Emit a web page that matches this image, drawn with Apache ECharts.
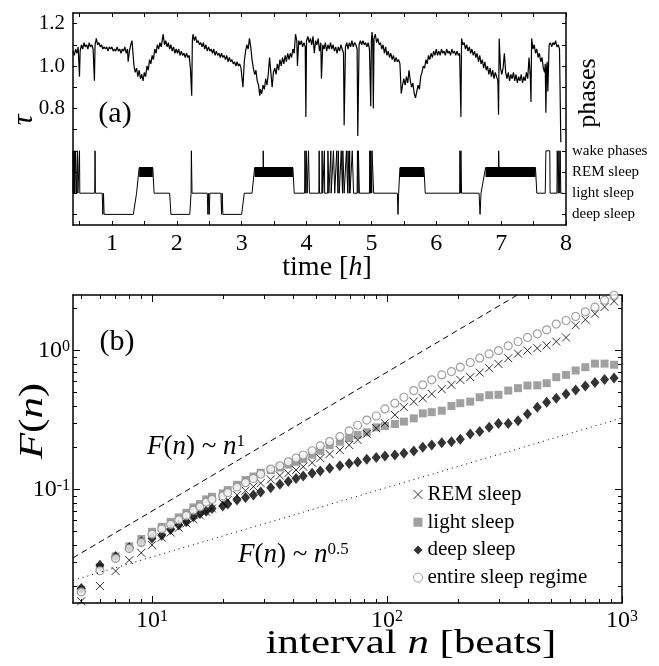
<!DOCTYPE html>
<html>
<head>
<meta charset="utf-8">
<script src="https://cdn.jsdelivr.net/npm/echarts@6/dist/echarts.min.js"></script>
<style>
  html, body { margin: 0; background: #fff; }
  #chart { width: 659px; height: 666px; }
</style>
</head>
<body>
<div id="chart"></div>
<script>
const SERIF = '"Liberation Serif", "Times New Roman", "DejaVu Serif", serif';

// ---- panel (a): tau time series and hypnogram ----
const tauPoints = [
  [0.40,1.07],[0.42,1.05],[0.44,1.08],[0.46,1.06],[0.48,1.09],[0.50,0.95],[0.51,1.07],[0.53,1.10],[0.55,1.08],[0.57,1.11],
  [0.59,1.09],[0.61,1.10],[0.63,1.08],[0.65,1.11],[0.67,1.09],[0.69,1.10],[0.71,1.08],[0.73,0.93],[0.74,1.10],[0.76,1.13],
  [0.78,1.10],[0.80,1.11],[0.82,1.09],[0.84,1.10],[0.86,1.08],[0.88,1.09],[0.90,1.08],[0.92,1.09],[0.94,1.07],[0.96,1.09],
  [0.98,1.08],[1.00,1.09],[1.02,1.07],[1.04,1.08],[1.06,1.07],[1.08,1.09],[1.10,1.07],[1.12,1.08],[1.14,1.06],[1.16,1.08],
  [1.18,1.07],[1.20,1.09],[1.22,1.06],[1.24,1.08],[1.25,1.02],[1.27,1.07],[1.29,1.10],[1.31,1.12],[1.33,1.04],[1.34,1.00],
  [1.36,0.97],[1.38,0.99],[1.40,0.95],[1.42,0.98],[1.44,0.94],[1.46,0.96],[1.48,0.93],[1.50,0.97],[1.52,0.95],[1.54,1.00],
  [1.56,0.98],[1.58,1.03],[1.60,1.01],[1.62,1.05],[1.64,1.03],[1.66,1.08],[1.68,1.06],[1.70,1.10],[1.72,1.08],[1.74,1.11],
  [1.76,1.09],[1.78,1.13],[1.79,1.15],[1.81,1.10],[1.83,1.12],[1.85,1.09],[1.87,1.11],[1.89,1.08],[1.91,1.10],[1.93,1.07],
  [1.95,1.09],[1.97,1.06],[1.99,1.08],[2.01,1.06],[2.03,1.08],[2.05,1.05],[2.07,1.07],[2.09,1.05],[2.11,1.06],[2.13,1.04],
  [2.15,1.06],[2.17,1.04],[2.19,1.05],[2.21,0.99],[2.23,0.86],[2.24,1.12],[2.25,1.15],[2.27,1.12],[2.29,1.14],[2.31,1.11],
  [2.33,1.12],[2.35,1.10],[2.37,1.11],[2.39,1.09],[2.41,1.11],[2.43,1.08],[2.45,1.10],[2.47,1.07],[2.49,1.09],[2.51,1.07],
  [2.53,1.08],[2.55,1.06],[2.57,1.08],[2.59,1.05],[2.61,1.07],[2.63,1.05],[2.65,1.06],[2.67,1.04],[2.69,1.06],[2.71,1.04],
  [2.73,1.05],[2.75,1.03],[2.77,1.05],[2.79,1.02],[2.81,1.04],[2.83,1.02],[2.85,1.03],[2.87,1.01],[2.89,1.02],[2.91,1.00],
  [2.93,1.02],[2.95,1.00],[2.97,1.01],[2.99,0.99],[3.02,0.90],[3.04,1.02],[3.06,1.07],[3.08,1.10],[3.10,1.08],[3.12,1.13],
  [3.14,1.09],[3.16,1.03],[3.18,0.99],[3.20,0.96],[3.22,0.98],[3.24,0.93],[3.26,0.91],[3.28,0.86],[3.29,0.89],[3.31,0.87],
  [3.33,0.91],[3.35,0.89],[3.37,0.94],[3.39,0.91],[3.41,0.96],[3.43,1.04],[3.45,0.97],[3.47,0.90],[3.49,0.97],[3.51,0.99],
  [3.53,0.96],[3.55,1.01],[3.57,0.98],[3.59,1.03],[3.61,1.00],[3.63,1.04],[3.65,1.01],[3.67,1.05],[3.69,1.02],[3.71,1.06],
  [3.73,1.03],[3.75,1.06],[3.77,1.04],[3.79,1.08],[3.81,1.06],[3.83,1.15],[3.85,1.12],[3.86,1.00],[3.88,1.12],[3.90,1.10],
  [3.92,1.12],[3.94,1.09],[3.96,1.11],[3.98,1.09],[3.99,0.76],[4.00,1.12],[4.02,1.14],[4.04,1.11],[4.06,1.13],[4.08,1.10],
  [4.10,1.14],[4.12,1.06],[4.14,1.12],[4.16,1.10],[4.18,1.13],[4.20,1.07],[4.22,1.11],[4.23,0.94],[4.25,1.10],[4.27,1.08],
  [4.29,1.11],[4.31,1.07],[4.33,1.10],[4.35,1.08],[4.37,1.11],[4.39,1.08],[4.41,1.10],[4.43,1.07],[4.45,1.09],[4.47,1.06],
  [4.49,1.09],[4.51,1.07],[4.53,1.10],[4.55,1.08],[4.57,1.06],[4.58,0.72],[4.60,1.09],[4.62,1.11],[4.64,1.08],[4.66,1.11],
  [4.68,1.09],[4.70,1.12],[4.72,1.09],[4.74,1.11],[4.76,1.10],[4.78,1.08],[4.79,0.67],[4.81,1.10],[4.83,1.12],[4.85,1.10],
  [4.87,1.12],[4.89,1.10],[4.91,1.11],[4.93,1.09],[4.95,1.11],[4.97,1.08],[4.99,0.81],[5.00,1.12],[5.01,1.16],[5.02,1.12],
  [5.03,0.80],[5.04,1.13],[5.06,1.15],[5.08,1.11],[5.10,1.13],[5.12,1.10],[5.14,1.11],[5.16,1.08],[5.18,1.10],[5.20,1.06],
  [5.22,1.09],[5.24,1.05],[5.26,1.07],[5.28,1.04],[5.30,1.06],[5.32,1.03],[5.34,1.05],[5.36,1.02],[5.38,1.04],[5.40,1.02],
  [5.42,1.03],[5.44,1.01],[5.46,0.87],[5.48,0.91],[5.50,0.94],[5.52,0.91],[5.54,0.95],[5.56,0.92],[5.58,0.98],[5.60,0.93],
  [5.62,0.90],[5.64,0.92],[5.66,0.87],[5.68,0.85],[5.70,0.88],[5.72,0.91],[5.74,0.89],[5.76,0.95],[5.78,0.97],[5.80,1.00],
  [5.82,0.99],[5.84,1.03],[5.86,1.01],[5.88,1.05],[5.90,1.03],[5.92,1.06],[5.94,1.04],[5.96,1.07],[5.98,1.05],[6.00,1.08],
  [6.02,1.05],[6.04,1.07],[6.06,1.05],[6.08,1.08],[6.10,1.06],[6.12,1.07],[6.14,1.05],[6.16,1.08],[6.18,1.06],[6.20,1.07],
  [6.22,1.05],[6.24,1.08],[6.26,1.06],[6.28,1.07],[6.30,1.05],[6.32,1.07],[6.34,1.05],[6.36,1.06],[6.38,0.76],[6.39,1.13],
  [6.41,1.10],[6.43,1.11],[6.45,1.08],[6.47,1.10],[6.49,1.07],[6.51,1.09],[6.53,1.06],[6.55,1.08],[6.57,1.05],[6.59,1.07],
  [6.61,1.04],[6.63,1.06],[6.65,1.02],[6.67,1.05],[6.69,1.01],[6.71,1.03],[6.73,0.99],[6.75,1.02],[6.77,0.98],[6.79,1.00],
  [6.81,0.96],[6.83,0.99],[6.85,0.95],[6.87,0.98],[6.89,0.94],[6.91,0.97],[6.93,0.95],[6.95,0.93],[6.96,0.77],[6.97,1.13],
  [6.99,0.99],[7.01,0.96],[7.03,0.99],[7.05,1.06],[7.07,0.97],[7.09,0.94],[7.11,0.97],[7.13,0.93],[7.15,0.96],[7.17,0.94],
  [7.19,0.97],[7.21,0.93],[7.23,0.96],[7.25,0.92],[7.27,0.95],[7.29,0.93],[7.31,0.96],[7.33,0.92],[7.35,0.95],[7.37,0.93],
  [7.39,0.97],[7.41,0.94],[7.43,1.04],[7.45,0.95],[7.46,0.83],[7.47,1.13],[7.49,1.08],[7.51,1.10],[7.53,1.06],[7.55,1.08],
  [7.57,1.04],[7.59,1.06],[7.61,1.02],[7.63,1.04],[7.65,0.99],[7.67,0.97],[7.68,1.01],[7.69,0.78],[7.70,0.99],[7.71,1.02],
  [7.72,0.88],[7.74,1.10],[7.76,1.11],[7.78,1.09],[7.80,1.11],[7.82,1.10],[7.84,1.12],[7.86,1.09],[7.88,1.10],[7.90,1.08],
  [7.92,0.64]
];

// sleep stage drawn on the same axis: wake 0.6, REM 0.52, light 0.4, deep 0.3
const hypnoPoints = [
  [0.40,0.40],[0.402,0.60],[0.41,0.60],[0.412,0.40],[0.42,0.60],[0.428,0.40],[0.44,0.60],[0.45,0.60],[0.452,0.40],
  [0.47,0.60],[0.475,0.40],[0.495,0.40],[0.50,0.60],[0.505,0.40],
  [0.735,0.40],[0.74,0.60],[0.745,0.40],
  [0.85,0.40],[0.86,0.30],[0.87,0.40],[0.88,0.30],
  [1.33,0.30],[1.38,0.40],[1.40,0.40],[1.42,0.52],
  [1.63,0.52],[1.65,0.40],
  [1.89,0.40],[1.91,0.30],
  [2.20,0.30],[2.22,0.40],[2.225,0.60],[2.235,0.40],
  [2.47,0.40],[2.48,0.30],[2.49,0.40],[2.50,0.30],[2.51,0.40],
  [2.68,0.40],[2.69,0.30],[2.70,0.40],[2.71,0.30],
  [3.00,0.30],[3.04,0.40],
  [3.16,0.40],[3.20,0.52],
  [3.33,0.52],[3.332,0.60],[3.338,0.52],
  [3.79,0.52],[3.81,0.40],
  [3.97,0.40],[3.975,0.60],[3.985,0.60],[3.99,0.40],[3.995,0.60],[4.005,0.60],[4.01,0.40],[4.025,0.40],[4.03,0.60],[4.04,0.60],[4.045,0.40],
  [4.19,0.40],[4.195,0.60],[4.20,0.40],
  [4.235,0.40],[4.24,0.60],[4.25,0.40],
  [4.27,0.40],[4.275,0.60],[4.28,0.40],
  [4.325,0.40],[4.33,0.60],[4.34,0.60],[4.345,0.40],
  [4.37,0.40],[4.375,0.60],[4.38,0.40],
  [4.41,0.40],[4.415,0.60],[4.43,0.60],[4.435,0.40],
  [4.46,0.40],[4.465,0.60],[4.48,0.60],[4.485,0.40],[4.49,0.60],[4.50,0.60],[4.505,0.40],
  [4.53,0.40],[4.535,0.60],[4.55,0.60],[4.555,0.40],[4.56,0.60],[4.575,0.60],[4.58,0.40],
  [4.61,0.40],[4.615,0.60],[4.63,0.60],[4.635,0.40],[4.64,0.60],[4.655,0.60],[4.66,0.40],[4.665,0.60],[4.67,0.40],
  [4.70,0.40],[4.705,0.60],[4.72,0.60],[4.725,0.40],
  [4.78,0.40],[4.785,0.60],[4.795,0.40],[4.80,0.60],[4.81,0.60],[4.815,0.40],
  [4.97,0.40],[4.975,0.60],[4.985,0.40],[4.99,0.60],[5.00,0.60],[5.005,0.40],[5.01,0.60],[5.03,0.60],[5.035,0.40],
  [5.40,0.40],[5.41,0.30],[5.42,0.40],[5.44,0.52],
  [5.81,0.52],[5.83,0.40],
  [6.36,0.40],[6.365,0.60],[6.375,0.40],[6.38,0.60],[6.39,0.40],
  [6.66,0.40],[6.675,0.30],[6.69,0.40],[6.71,0.40],[6.76,0.52],
  [6.96,0.52],[6.962,0.60],[6.968,0.52],
  [7.53,0.52],[7.55,0.40],
  [7.68,0.40],[7.69,0.60],[7.75,0.60],[7.755,0.40],
  [7.86,0.40],[7.865,0.60],[7.875,0.60],[7.88,0.40],[7.89,0.60],[7.90,0.60],[7.905,0.40],[7.91,0.60],[7.92,0.40],[7.95,0.40]
];
const remSpans = [[1.42, 1.63], [3.20, 3.79], [5.44, 5.81], [6.76, 7.53]];
const remBandLevel = 0.50;

const stageLevels = [0.3, 0.4, 0.5, 0.6];
const stageNames = ['deep sleep', 'light sleep', 'REM sleep', 'wake phases'];
const hourTicks = [0.5, 1, 1.5, 2, 2.5, 3, 3.5, 4, 4.5, 5, 5.5, 6, 6.5, 7, 7.5, 8];
const hourLabels = [1, 2, 3, 4, 5, 6, 7, 8];
const tauTicks = [0.3, 0.4, 0.5, 0.6, 0.7, 0.8, 0.9, 1.0, 1.1, 1.2];
const tauLabels = [0.8, 1.0, 1.2];

// ---- panel (b): fluctuation function F(n) ----
const nValues = [5, 6, 7, 8, 9, 10, 11, 12, 13, 14, 15, 16, 17, 18, 20, 21, 23, 25, 27, 29,
  32, 35, 38, 41, 44, 48, 52, 57, 63, 69, 75, 82, 90, 98, 108, 118, 130, 142, 155, 171,
  188, 205, 226, 248, 272, 298, 328, 361, 396, 436, 478, 525, 578, 635, 698, 767, 843, 925, 1017];
const remF = [0.0157, 0.0202, 0.0259, 0.031, 0.035, 0.0398, 0.045, 0.049, 0.053, 0.057, 0.061, 0.065, 0.069, 0.073, 0.080, 0.084, 0.091, 0.098, 0.105, 0.111,
  0.118, 0.126, 0.131, 0.138, 0.146, 0.156, 0.168, 0.180, 0.192, 0.209, 0.227, 0.251, 0.276, 0.300, 0.344, 0.391, 0.429, 0.454, 0.487, 0.527,
  0.566, 0.615, 0.643, 0.694, 0.746, 0.802, 0.88, 0.95, 1.0, 1.04, 1.09, 1.16, 1.24, 1.52, 1.67, 1.84, 2.06, 2.26];
const lightF = [0.019, 0.0275, 0.033, 0.039, 0.044, 0.0496, 0.0538, 0.0585, 0.063, 0.068, 0.0743, 0.0785, 0.0849, 0.0886, 0.0937, 0.099, 0.108, 0.117, 0.124, 0.132,
  0.138, 0.144, 0.151, 0.158, 0.166, 0.178, 0.190, 0.209, 0.221, 0.234, 0.247, 0.258, 0.280, 0.286, 0.296, 0.308, 0.325, 0.353, 0.360, 0.369,
  0.399, 0.418, 0.429, 0.461, 0.477, 0.480, 0.515, 0.536, 0.560, 0.562, 0.582, 0.643, 0.668, 0.718, 0.759, 0.805, 0.805, 0.79, 1.01];
const deepF = [0.0194, 0.0285, 0.033, 0.038, 0.042, 0.0445, 0.0469, 0.0515, 0.0554, 0.0585, 0.0636, 0.0671, 0.0698, 0.073, 0.0759, 0.0785, 0.0839, 0.0877, 0.0912, 0.096,
  0.103, 0.109, 0.114, 0.120, 0.125, 0.131, 0.136, 0.142, 0.148, 0.154, 0.158, 0.165, 0.170, 0.174, 0.177, 0.182, 0.189, 0.201, 0.209, 0.217,
  0.221, 0.230, 0.251, 0.261, 0.280, 0.299, 0.299, 0.313, 0.350, 0.391, 0.425, 0.454, 0.487, 0.521, 0.556, 0.588, 0.618, 0.635];
const entireF = [0.0183, 0.026, 0.0319, 0.0376, 0.0416, 0.0477, 0.052, 0.056, 0.0605, 0.065, 0.071, 0.075, 0.081, 0.085, 0.090, 0.095, 0.104, 0.112, 0.120, 0.129,
  0.140, 0.148, 0.158, 0.168, 0.177, 0.190, 0.206, 0.221, 0.240, 0.264, 0.290, 0.316, 0.338, 0.380, 0.418, 0.461, 0.515, 0.566, 0.615, 0.668,
  0.706, 0.759, 0.820, 0.881, 0.946, 1.0, 1.081, 1.161, 1.241, 1.319, 1.41, 1.55, 1.645, 1.758, 1.90, 2.05, 2.30, 2.50];

const guideN = [4.61, 1000];
const slopeOneF = [0.0322, 7.0];
const slopeHalfF = [0.0222, 0.327];

const nRange = [4.61, 1000];
const fRange = [0.01524, 2.51];
const majorN = [10, 100, 1000];
const minorN = [5, 6, 7, 8, 9, 20, 30, 40, 50, 60, 70, 80, 90, 200, 300, 400, 500, 600, 700, 800, 900];
const majorF = [0.1, 1];
const minorF = [0.02, 0.03, 0.04, 0.05, 0.06, 0.07, 0.08, 0.09, 0.2, 0.3, 0.4, 0.5, 0.6, 0.7, 0.8, 0.9, 2];

const pair = (xs, ys) => ys.map((y, i) => [xs[i], y]);

const frameLine = { show: true, lineStyle: { color: '#000', width: 1.5 } };
const tickStyle = { color: '#000', width: 1 };
const powerRich = {
  b: { fontFamily: SERIF, fontSize: 24, color: '#000', lineHeight: 24 },
  s: { fontFamily: SERIF, fontSize: 16, color: '#000', lineHeight: 16, verticalAlign: 'top' }
};
const powerLabel = v => '{b|10}{s|' + Math.round(Math.log10(v)) + '}';

function hoursAxis(position, withLabels) {
  return {
    gridIndex: 0, type: 'value', position, min: 0.4, max: 8,
    axisLine: frameLine,
    axisTick: { inside: true, length: 4, lineStyle: tickStyle, customValues: hourTicks },
    axisLabel: withLabels
      ? { customValues: hourLabels, fontFamily: SERIF, fontSize: 24, color: '#000', margin: 7 }
      : { show: false },
    splitLine: { show: false }
  };
}

function tauAxis(position) {
  const left = position === 'left';
  return {
    gridIndex: 0, type: 'value', position, min: 0.25, max: 1.25,
    axisLine: frameLine,
    axisTick: { inside: true, length: 4, lineStyle: tickStyle, customValues: tauTicks },
    axisLabel: left
      ? { customValues: tauLabels, formatter: v => v.toFixed(1), fontFamily: SERIF, fontSize: 21, color: '#000', margin: 8 }
      : {
          customValues: stageLevels, fontFamily: SERIF, fontSize: 15, color: '#000', margin: 6,
          formatter: v => stageNames[stageLevels.findIndex(s => Math.abs(s - v) < 1e-6)] || ''
        },
    splitLine: { show: false }
  };
}

function logAxis(position, range, ticks, len, labels, gap) {
  return {
    gridIndex: 1, type: 'log', position, min: range[0], max: range[1],
    axisLine: len > 5 ? frameLine : { show: false },
    axisTick: { inside: true, length: len, lineStyle: tickStyle, customValues: ticks },
    axisLabel: labels
      ? { customValues: ticks, formatter: powerLabel, rich: powerRich, margin: gap }
      : { show: false },
    splitLine: { show: false }
  };
}

const bodyText = (size, italic) => ({
  fontFamily: SERIF, fontSize: size, fontStyle: italic ? 'italic' : 'normal', color: '#000', fill: '#000'
});
function label(x, y, text, rich, size, rotation, align, stretch) {
  return {
    type: 'text', x, y, rotation: rotation || 0, scaleX: stretch || 1, silent: true,
    style: {
      text, rich, fontFamily: SERIF, fontSize: size, fill: '#000',
      align: align || 'center', textAlign: align || 'center',
      verticalAlign: 'middle', textVerticalAlign: 'middle'
    }
  };
}
const titleRich = size => ({
  r: bodyText(size, false),
  i: bodyText(size, true),
  s: Object.assign(bodyText(Math.round(size * 0.62), false), { verticalAlign: 'top' })
});

const remBandSeries = remSpans.map(span => ({
  type: 'line', xAxisIndex: 0, yAxisIndex: 0, showSymbol: false, silent: true,
  data: [[span[0], remBandLevel], [span[1], remBandLevel]],
  lineStyle: { color: '#000', width: 10, cap: 'butt' }
}));

const option = {
  animation: false,
  backgroundColor: '#fff',
  grid: [
    { left: 73, top: 13, width: 493, height: 212 },
    { left: 73, top: 295, width: 549, height: 308 }
  ],
  xAxis: [
    hoursAxis('bottom', true),
    hoursAxis('top', false),
    logAxis('bottom', nRange, majorN, 7, true, 6),
    logAxis('bottom', nRange, minorN, 4, false),
    logAxis('top', nRange, majorN, 7, false),
    logAxis('top', nRange, minorN, 4, false)
  ],
  yAxis: [
    tauAxis('left'),
    tauAxis('right'),
    logAxis('left', fRange, majorF, 7, true, 3),
    logAxis('left', fRange, minorF, 4, false),
    logAxis('right', fRange, majorF, 7, false),
    logAxis('right', fRange, minorF, 4, false)
  ],
  legend: {
    orient: 'vertical', left: 411, top: 484, padding: 0,
    itemWidth: 9, itemHeight: 9, itemGap: 6.7,
    itemStyle: { borderWidth: 1 },
    textStyle: { fontFamily: SERIF, fontSize: 21, color: '#000', lineHeight: 20 },
    data: ['REM sleep', 'light sleep', 'deep sleep', 'entire sleep regime']
  },
  graphic: [
    label(115, 114, '(a)', null, 30),
    label(117, 342, '(b)', null, 30),
    label(24, 120, '{i|τ}', titleRich(30), 30, Math.PI / 2),
    label(588, 93, 'phases', null, 26, Math.PI / 2),
    label(327, 268, '{r|time [}{i|h}{r|]}', titleRich(28), 28),
    label(33, 421, '{i|F}{r|(}{i|n}{r|)}', titleRich(33), 33, Math.PI / 2, 'center', 1.3),
    label(411, 644, '{r|interval }{i|n}{r| [beats]}', titleRich(33), 33, 0, 'center', 1.3),
    label(147, 447, '{i|F}{r|(}{i|n}{r|) ~ }{i|n}{s|1}', titleRich(27), 27, 0, 'left'),
    label(238, 555, '{i|F}{r|(}{i|n}{r|) ~ }{i|n}{s|0.5}', titleRich(27), 27, 0, 'left')
  ],
  series: [
    {
      type: 'line', xAxisIndex: 0, yAxisIndex: 0, showSymbol: false, silent: true,
      data: tauPoints, lineStyle: { color: '#000', width: 1.2 }
    },
    {
      type: 'line', xAxisIndex: 0, yAxisIndex: 0, showSymbol: false, silent: true,
      data: hypnoPoints, lineStyle: { color: '#000', width: 1 }
    },
    ...remBandSeries,
    {
      type: 'line', xAxisIndex: 2, yAxisIndex: 2, showSymbol: false, silent: true,
      data: pair(guideN, slopeOneF), lineStyle: { color: '#000', width: 1, type: [6, 4] }
    },
    {
      type: 'line', xAxisIndex: 2, yAxisIndex: 2, showSymbol: false, silent: true,
      data: pair(guideN, slopeHalfF), lineStyle: { color: '#000', width: 1, type: [1, 4] }
    },
    {
      name: 'light sleep', type: 'scatter', xAxisIndex: 2, yAxisIndex: 2,
      symbol: 'rect', symbolSize: 8, data: pair(nValues, lightF),
      itemStyle: { color: '#888' }
    },
    {
      name: 'REM sleep', type: 'scatter', xAxisIndex: 2, yAxisIndex: 2,
      symbol: 'path://M0,0L10,10M0,10L10,0', symbolSize: 8, data: pair(nValues, remF),
      itemStyle: { color: 'none', borderColor: '#000', borderWidth: 1 }
    },
    {
      name: 'deep sleep', type: 'scatter', xAxisIndex: 2, yAxisIndex: 2,
      symbol: 'diamond', symbolSize: [9, 11], data: pair(nValues, deepF),
      itemStyle: { color: '#000' }
    },
    {
      name: 'entire sleep regime', type: 'scatter', xAxisIndex: 2, yAxisIndex: 2,
      symbol: 'circle', symbolSize: 8, data: pair(nValues, entireF),
      itemStyle: { color: '#fff', borderColor: '#888', borderWidth: 1.2 }
    }
  ]
};

const chart = echarts.init(document.getElementById('chart'));
chart.setOption(option);
</script>
</body>
</html>
